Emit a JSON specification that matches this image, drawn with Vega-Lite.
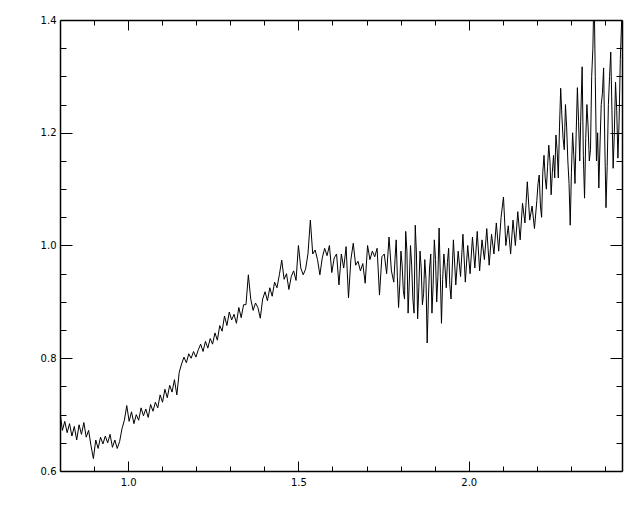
{
  "$schema": "https://vega.github.io/schema/vega-lite/v6.json",
  "width": 562,
  "height": 451,
  "autosize": "none",
  "padding": {"left": 60, "top": 20, "right": 18, "bottom": 41},
  "background": "white",
  "config": {
    "view": {"stroke": null},
    "axis": {"grid": false, "labelFont": "DejaVu Sans", "labelFontSize": 10, "labelColor": "#000", "tickColor": "#000", "domainColor": "#000", "tickWidth": 1, "domainWidth": 1.5, "title": null}
  },
  "data": {"values": [
    {"x":0.800,"y":0.705},{"x":0.807,"y":0.672},{"x":0.814,"y":0.688},{"x":0.821,"y":0.668},{"x":0.828,"y":0.684},{"x":0.835,"y":0.662},{"x":0.842,"y":0.679},{"x":0.849,"y":0.655},{"x":0.856,"y":0.682},{"x":0.863,"y":0.665},{"x":0.870,"y":0.686},{"x":0.877,"y":0.660},{"x":0.884,"y":0.672},{"x":0.891,"y":0.645},{"x":0.898,"y":0.622},{"x":0.905,"y":0.655},{"x":0.912,"y":0.640},{"x":0.919,"y":0.660},{"x":0.926,"y":0.648},{"x":0.933,"y":0.662},{"x":0.940,"y":0.650},{"x":0.947,"y":0.665},{"x":0.954,"y":0.642},{"x":0.961,"y":0.655},{"x":0.968,"y":0.640},{"x":0.975,"y":0.652},{"x":0.982,"y":0.675},{"x":0.989,"y":0.690},{"x":0.996,"y":0.716},{"x":1.003,"y":0.688},{"x":1.010,"y":0.705},{"x":1.017,"y":0.684},{"x":1.024,"y":0.700},{"x":1.031,"y":0.690},{"x":1.038,"y":0.712},{"x":1.045,"y":0.698},{"x":1.052,"y":0.710},{"x":1.059,"y":0.695},{"x":1.066,"y":0.718},{"x":1.073,"y":0.706},{"x":1.080,"y":0.722},{"x":1.087,"y":0.712},{"x":1.094,"y":0.735},{"x":1.101,"y":0.722},{"x":1.108,"y":0.745},{"x":1.115,"y":0.730},{"x":1.122,"y":0.752},{"x":1.129,"y":0.740},{"x":1.136,"y":0.762},{"x":1.143,"y":0.735},{"x":1.150,"y":0.775},{"x":1.157,"y":0.790},{"x":1.164,"y":0.802},{"x":1.171,"y":0.792},{"x":1.178,"y":0.808},{"x":1.185,"y":0.800},{"x":1.192,"y":0.812},{"x":1.199,"y":0.802},{"x":1.206,"y":0.815},{"x":1.213,"y":0.825},{"x":1.220,"y":0.812},{"x":1.227,"y":0.830},{"x":1.234,"y":0.818},{"x":1.241,"y":0.835},{"x":1.248,"y":0.825},{"x":1.255,"y":0.845},{"x":1.262,"y":0.832},{"x":1.269,"y":0.858},{"x":1.276,"y":0.848},{"x":1.283,"y":0.875},{"x":1.290,"y":0.858},{"x":1.297,"y":0.882},{"x":1.304,"y":0.868},{"x":1.311,"y":0.878},{"x":1.318,"y":0.862},{"x":1.325,"y":0.890},{"x":1.332,"y":0.872},{"x":1.339,"y":0.895},{"x":1.346,"y":0.895},{"x":1.353,"y":0.948},{"x":1.360,"y":0.905},{"x":1.367,"y":0.885},{"x":1.374,"y":0.898},{"x":1.381,"y":0.890},{"x":1.388,"y":0.871},{"x":1.395,"y":0.905},{"x":1.402,"y":0.918},{"x":1.409,"y":0.902},{"x":1.416,"y":0.925},{"x":1.423,"y":0.910},{"x":1.430,"y":0.935},{"x":1.437,"y":0.925},{"x":1.444,"y":0.948},{"x":1.451,"y":0.974},{"x":1.458,"y":0.940},{"x":1.465,"y":0.950},{"x":1.472,"y":0.922},{"x":1.479,"y":0.945},{"x":1.486,"y":0.955},{"x":1.493,"y":0.938},{"x":1.500,"y":1.000},{"x":1.507,"y":0.960},{"x":1.514,"y":0.948},{"x":1.521,"y":0.958},{"x":1.528,"y":0.985},{"x":1.535,"y":1.045},{"x":1.542,"y":0.985},{"x":1.549,"y":0.992},{"x":1.556,"y":0.975},{"x":1.563,"y":0.948},{"x":1.570,"y":0.978},{"x":1.577,"y":0.995},{"x":1.584,"y":0.982},{"x":1.591,"y":1.000},{"x":1.598,"y":0.952},{"x":1.605,"y":0.978},{"x":1.612,"y":0.985},{"x":1.619,"y":0.930},{"x":1.626,"y":0.985},{"x":1.633,"y":0.960},{"x":1.640,"y":0.998},{"x":1.647,"y":0.907},{"x":1.654,"y":0.975},{"x":1.661,"y":1.004},{"x":1.668,"y":0.965},{"x":1.675,"y":0.972},{"x":1.682,"y":0.955},{"x":1.689,"y":0.968},{"x":1.696,"y":0.933},{"x":1.703,"y":1.000},{"x":1.710,"y":0.975},{"x":1.717,"y":0.990},{"x":1.724,"y":0.980},{"x":1.731,"y":0.995},{"x":1.738,"y":0.912},{"x":1.745,"y":0.980},{"x":1.752,"y":0.985},{"x":1.759,"y":0.950},{"x":1.766,"y":1.015},{"x":1.773,"y":0.955},{"x":1.780,"y":0.935},
    {"x":1.7835,"y":0.975},{"x":1.787,"y":1.010},{"x":1.7905,"y":0.945},{"x":1.794,"y":0.890},{"x":1.7975,"y":0.930},{"x":1.801,"y":0.990},{"x":1.8045,"y":0.965},{"x":1.808,"y":0.920},{"x":1.8115,"y":0.905},{"x":1.815,"y":1.025},{"x":1.8185,"y":0.990},{"x":1.822,"y":0.880},{"x":1.8255,"y":0.935},{"x":1.829,"y":1.000},{"x":1.8325,"y":0.965},{"x":1.836,"y":0.905},{"x":1.8395,"y":0.880},{"x":1.843,"y":1.036},{"x":1.8465,"y":0.985},{"x":1.850,"y":0.870},{"x":1.8535,"y":0.925},{"x":1.857,"y":0.990},{"x":1.8605,"y":0.960},{"x":1.864,"y":0.895},{"x":1.8675,"y":0.915},{"x":1.871,"y":0.975},{"x":1.8745,"y":0.940},{"x":1.878,"y":0.827},{"x":1.8815,"y":0.905},{"x":1.885,"y":0.960},{"x":1.8885,"y":0.985},{"x":1.892,"y":0.880},{"x":1.8955,"y":0.930},{"x":1.899,"y":1.010},{"x":1.9025,"y":0.975},{"x":1.906,"y":0.900},{"x":1.9095,"y":0.945},{"x":1.913,"y":1.031},{"x":1.9165,"y":0.950},{"x":1.920,"y":0.862},{"x":1.9235,"y":0.940},{"x":1.927,"y":0.985},{"x":1.9305,"y":0.960},{"x":1.934,"y":0.925},{"x":1.9375,"y":0.970},{"x":1.941,"y":0.995},{"x":1.9445,"y":0.930},{"x":1.948,"y":0.905},
    {"x":1.955,"y":1.010},{"x":1.962,"y":0.930},{"x":1.969,"y":0.990},{"x":1.976,"y":0.945},{"x":1.983,"y":1.020},{"x":1.990,"y":0.935},{"x":1.997,"y":1.000},{"x":2.004,"y":0.950},{"x":2.011,"y":1.015},{"x":2.018,"y":0.960},{"x":2.025,"y":1.025},{"x":2.032,"y":0.955},{"x":2.039,"y":1.010},{"x":2.046,"y":0.975},{"x":2.053,"y":1.030},{"x":2.060,"y":0.965},{"x":2.067,"y":1.020},{"x":2.074,"y":0.985},{"x":2.081,"y":1.040},{"x":2.088,"y":0.990},{"x":2.095,"y":1.050},{"x":2.102,"y":1.086},{"x":2.109,"y":1.000},{"x":2.116,"y":1.035},{"x":2.123,"y":0.985},{"x":2.130,"y":1.045},{"x":2.137,"y":1.000},{"x":2.144,"y":1.060},{"x":2.151,"y":1.010},{"x":2.158,"y":1.075},{"x":2.165,"y":1.040},{"x":2.172,"y":1.113},{"x":2.179,"y":1.045},{"x":2.186,"y":1.070},{"x":2.193,"y":1.030},{"x":2.200,"y":1.080},
    {"x":2.2035,"y":1.110},{"x":2.207,"y":1.125},{"x":2.2105,"y":1.070},{"x":2.214,"y":1.050},{"x":2.2175,"y":1.130},{"x":2.221,"y":1.160},{"x":2.2245,"y":1.120},{"x":2.228,"y":1.100},{"x":2.2315,"y":1.140},{"x":2.235,"y":1.178},{"x":2.2385,"y":1.150},{"x":2.242,"y":1.090},{"x":2.2455,"y":1.130},{"x":2.249,"y":1.160},{"x":2.2525,"y":1.120},{"x":2.256,"y":1.196},{"x":2.2595,"y":1.170},{"x":2.263,"y":1.120},{"x":2.2665,"y":1.210},{"x":2.270,"y":1.279},{"x":2.2735,"y":1.230},{"x":2.277,"y":1.190},{"x":2.2805,"y":1.170},{"x":2.284,"y":1.250},{"x":2.2875,"y":1.210},{"x":2.291,"y":1.150},{"x":2.2945,"y":1.110},{"x":2.298,"y":1.036},{"x":2.3015,"y":1.130},{"x":2.305,"y":1.200},{"x":2.3085,"y":1.160},{"x":2.312,"y":1.110},{"x":2.3155,"y":1.200},{"x":2.319,"y":1.280},{"x":2.3225,"y":1.220},{"x":2.326,"y":1.150},{"x":2.3295,"y":1.240},{"x":2.333,"y":1.317},{"x":2.3365,"y":1.160},{"x":2.340,"y":1.084},{"x":2.3435,"y":1.190},{"x":2.347,"y":1.250},{"x":2.3505,"y":1.210},{"x":2.354,"y":1.150},{"x":2.3575,"y":1.170},{"x":2.361,"y":1.300},{"x":2.3645,"y":1.350},{"x":2.368,"y":1.460},{"x":2.3715,"y":1.300},{"x":2.375,"y":1.150},{"x":2.3785,"y":1.200},{"x":2.382,"y":1.102},{"x":2.3855,"y":1.180},{"x":2.389,"y":1.250},{"x":2.3925,"y":1.270},{"x":2.396,"y":1.315},{"x":2.3995,"y":1.180},{"x":2.403,"y":1.067},{"x":2.4065,"y":1.140},{"x":2.410,"y":1.250},{"x":2.4135,"y":1.300},{"x":2.417,"y":1.343},{"x":2.4205,"y":1.240},{"x":2.424,"y":1.137},{"x":2.4275,"y":1.200},{"x":2.431,"y":1.290},{"x":2.4345,"y":1.240},{"x":2.438,"y":1.155},{"x":2.4415,"y":1.220},{"x":2.445,"y":1.330},{"x":2.449,"y":1.400}
  ]},
  "resolve": {"axis": {"x": "independent", "y": "independent"}},
  "layer": [
    {
      "mark": {"type": "line", "color": "#000", "strokeWidth": 1, "clip": true, "interpolate": "linear"},
      "encoding": {
        "x": {"field": "x", "type": "quantitative", "scale": {"domain": [0.8, 2.45], "nice": false, "zero": false},
              "axis": {"orient": "bottom", "values": [1.0, 1.5, 2.0], "format": ".1f", "ticks": false, "domain": true, "labelPadding": 6}},
        "y": {"field": "y", "type": "quantitative", "scale": {"domain": [0.6, 1.4], "nice": false, "zero": false},
              "axis": {"orient": "left", "values": [0.6, 0.8, 1.0, 1.2, 1.4], "format": ".1f", "ticks": false, "domain": true, "labelPadding": 4}}
      }
    },
    {
      "mark": {"type": "line", "opacity": 0},
      "encoding": {
        "x": {"field": "x", "type": "quantitative", "axis": {"orient": "bottom", "values": [1.0, 1.5, 2.0], "labels": false, "domain": false, "tickSize": -10}},
        "y": {"field": "y", "type": "quantitative", "axis": {"orient": "left", "values": [0.6, 0.8, 1.0, 1.2, 1.4], "labels": false, "domain": false, "tickSize": -12}}
      }
    },
    {
      "mark": {"type": "line", "opacity": 0},
      "encoding": {
        "x": {"field": "x", "type": "quantitative", "axis": {"orient": "bottom", "values": [0.9, 1.1, 1.2, 1.3, 1.4, 1.6, 1.7, 1.8, 1.9, 2.1, 2.2, 2.3, 2.4], "labels": false, "domain": false, "tickSize": -5}},
        "y": {"field": "y", "type": "quantitative", "axis": {"orient": "left", "values": [0.65, 0.7, 0.75, 0.85, 0.9, 0.95, 1.05, 1.1, 1.15, 1.25, 1.3, 1.35], "labels": false, "domain": false, "tickSize": -6}}
      }
    },
    {
      "mark": {"type": "line", "opacity": 0},
      "encoding": {
        "x": {"field": "x", "type": "quantitative", "axis": {"orient": "top", "values": [1.0, 1.5, 2.0], "labels": false, "domain": true, "tickSize": -10}},
        "y": {"field": "y", "type": "quantitative", "axis": {"orient": "right", "values": [0.6, 0.8, 1.0, 1.2, 1.4], "labels": false, "domain": true, "tickSize": -12}}
      }
    },
    {
      "mark": {"type": "line", "opacity": 0},
      "encoding": {
        "x": {"field": "x", "type": "quantitative", "axis": {"orient": "top", "values": [0.9, 1.1, 1.2, 1.3, 1.4, 1.6, 1.7, 1.8, 1.9, 2.1, 2.2, 2.3, 2.4], "labels": false, "domain": false, "tickSize": -5}},
        "y": {"field": "y", "type": "quantitative", "axis": {"orient": "right", "values": [0.65, 0.7, 0.75, 0.85, 0.9, 0.95, 1.05, 1.1, 1.15, 1.25, 1.3, 1.35], "labels": false, "domain": false, "tickSize": -6}}
      }
    }
  ]
}
